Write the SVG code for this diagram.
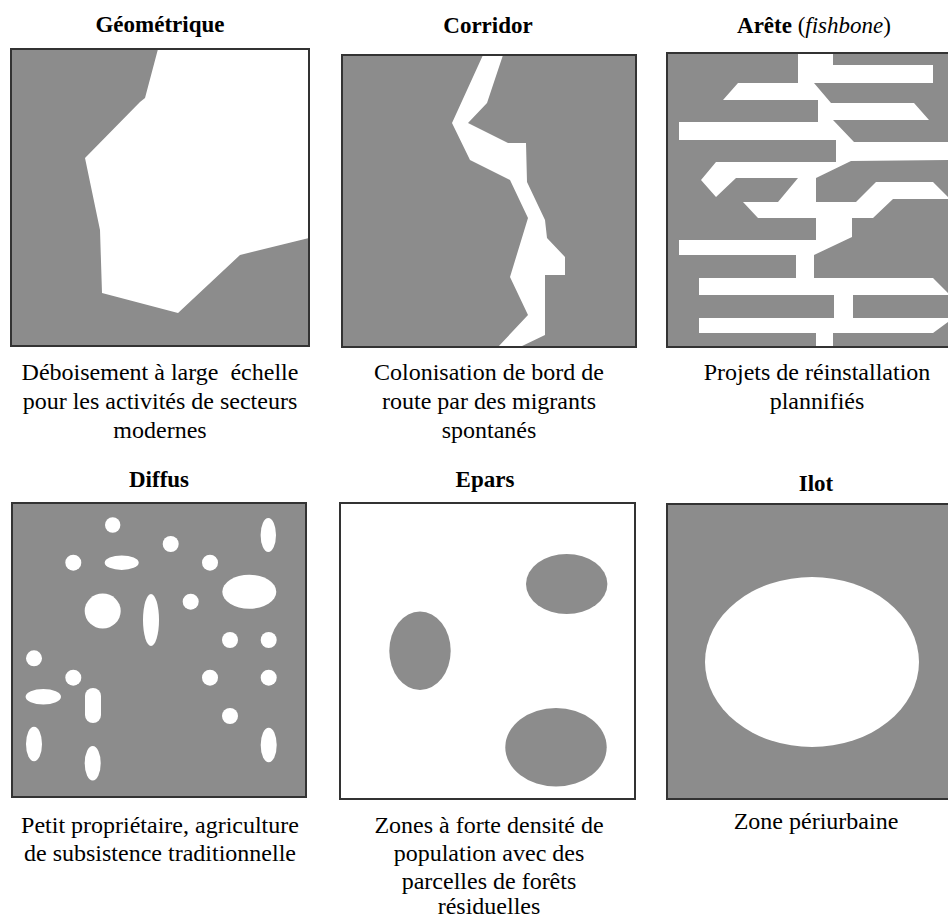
<svg xmlns="http://www.w3.org/2000/svg" width="948" height="919" viewBox="0 0 948 919">
<style>
.title{font-family:"Liberation Serif","Times New Roman",serif;font-size:23px;font-weight:bold;fill:#000;text-anchor:middle}
.cap{font-family:"Liberation Serif","Times New Roman",serif;font-size:24px;fill:#000;text-anchor:middle}
.gray{fill:#8c8c8c}
.wh{fill:#fff}
.frame{fill:none;stroke:#333;stroke-width:2}
</style>
<rect x="0" y="0" width="948" height="919" fill="#fff"/>

<g id="geometrique">
<text class="title" x="160" y="32">Géométrique</text>
<rect class="gray" x="11" y="49" width="298" height="297"/>
<polygon class="wh" points="158,49 145,98 140,102 85,158 100,230 102,293 178,313 240,255 309,238 309,49"/>
<rect class="frame" x="11" y="49" width="298" height="297"/>
<text class="cap" x="160" y="380">Déboisement à large&#160; échelle</text>
<text class="cap" x="160" y="409">pour les activités de secteurs</text>
<text class="cap" x="160" y="438">modernes</text>
</g>

<g id="corridor">
<text class="title" x="488" y="33">Corridor</text>
<rect class="gray" x="342" y="55" width="294" height="292"/>
<polygon class="wh" points="483,55 452,123 470,160 510,180 528,218 510,277 528,315 498,347 520,347 545,335 545,275 565,275 565,257 547,238 545,220 527,182 526,143 508,143 468,123 487,103 503,55"/>
<rect class="frame" x="342" y="55" width="294" height="292"/>
<text class="cap" x="489" y="380">Colonisation de bord de</text>
<text class="cap" x="489" y="409">route par des migrants</text>
<text class="cap" x="489" y="438">spontanés</text>
</g>

<g id="arete">
<text class="title" x="814" y="33">Arête <tspan font-weight="normal">(<tspan font-style="italic">fishbone</tspan>)</tspan></text>
<rect class="gray" x="667" y="53" width="281" height="294"/>
<polygon class="wh" points="798,53 833,53 833,65 933,65 933,83 814,83 831,103 914,103 929,120 833,120 854,142 948,142 948,160 851,161 816,178 816,202 856,202 876,182 933,182 948,197 948,199 893,199 873,218 852,218 852,237 814,255 814,278 933,278 948,293 948,295 853,295 853,318 948,318 948,322 933,333 833,333 833,347 816,347 816,333 699,333 699,318 834,318 834,295 699,295 699,278 796,278 796,255 679,255 679,240 816,240 816,218 758,218 743,202 778,202 798,178 736,178 716,197 701,180 716,162 836,162 836,140 679,140 679,122 818,122 818,100 723,100 738,83 798,83"/>
<path class="frame" d="M948,53 H667 V347 H948"/>
<text class="cap" x="817" y="380">Projets de réinstallation</text>
<text class="cap" x="817" y="409">plannifiés</text>
</g>

<g id="diffus">
<text class="title" x="159" y="487">Diffus</text>
<rect class="gray" x="12" y="503" width="294" height="294"/>
<g class="wh">
<circle cx="112.7" cy="525" r="7.7"/>
<ellipse cx="268.3" cy="535" rx="7.7" ry="17"/>
<circle cx="170.7" cy="544" r="8"/>
<circle cx="73.3" cy="562.7" r="8"/>
<ellipse cx="121.7" cy="562.7" rx="17" ry="7.3"/>
<circle cx="210" cy="562.7" r="8"/>
<ellipse cx="249.3" cy="591.7" rx="27" ry="17"/>
<ellipse cx="102.7" cy="611" rx="18" ry="17.5"/>
<ellipse cx="151" cy="620" rx="8" ry="26"/>
<circle cx="190.7" cy="601.7" r="8"/>
<circle cx="230" cy="640" r="8"/>
<circle cx="268.7" cy="640" r="8"/>
<circle cx="34" cy="658.3" r="8"/>
<circle cx="73.3" cy="677.7" r="8"/>
<circle cx="210" cy="677.7" r="8"/>
<circle cx="268.7" cy="677.7" r="8"/>
<ellipse cx="43.3" cy="696.7" rx="17.7" ry="7.7"/>
<rect x="85" y="688" width="16" height="35" rx="8" ry="8"/>
<circle cx="230" cy="716" r="8"/>
<ellipse cx="34" cy="744" rx="8" ry="17.3"/>
<ellipse cx="92.7" cy="763.3" rx="8" ry="17.3"/>
<ellipse cx="268.7" cy="745" rx="8" ry="17.3"/>
</g>
<rect class="frame" x="12" y="503" width="294" height="294"/>
<text class="cap" x="160" y="833">Petit propriétaire, agriculture</text>
<text class="cap" x="160" y="861">de subsistence traditionnelle</text>
</g>

<g id="epars">
<text class="title" x="485" y="487">Epars</text>
<rect class="wh" x="340" y="503" width="295" height="296"/>
<g class="gray">
<ellipse cx="566.7" cy="584" rx="40.7" ry="30"/>
<ellipse cx="420" cy="650.7" rx="30.7" ry="39.3"/>
<ellipse cx="556" cy="747.3" rx="50.7" ry="39.3"/>
</g>
<rect class="frame" x="340" y="503" width="295" height="296"/>
<text class="cap" x="489" y="833">Zones à forte densité de</text>
<text class="cap" x="489" y="861">population avec des</text>
<text class="cap" x="489" y="889">parcelles de forêts</text>
<text class="cap" x="489" y="914">résiduelles</text>
</g>

<g id="ilot">
<text class="title" x="816" y="491">Ilot</text>
<rect class="gray" x="667" y="504" width="281" height="295"/>
<ellipse class="wh" cx="812" cy="662" rx="107" ry="85"/>
<path class="frame" d="M948,504 H667 V799 H948"/>
<text class="cap" x="816" y="829">Zone périurbaine</text>
</g>
</svg>
